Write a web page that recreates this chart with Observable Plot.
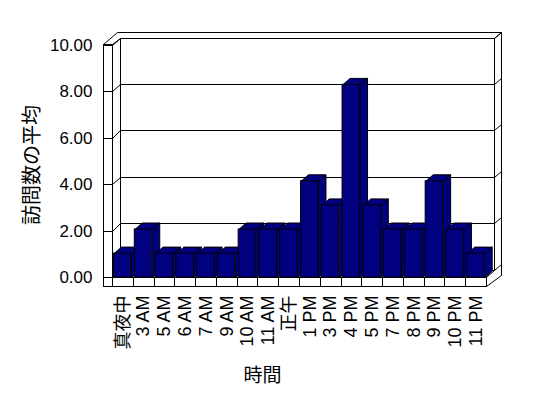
<!DOCTYPE html>
<html>
<head>
<meta charset="utf-8">
<script src="https://cdn.jsdelivr.net/npm/d3@7"></script>
<script src="https://cdn.jsdelivr.net/npm/@observablehq/plot@0.6"></script>
<style>
  html, body { margin: 0; padding: 0; background: #ffffff; }
  #chart { position: relative; width: 548px; height: 398px; overflow: hidden; }
  #chart svg { position: absolute; left: 0; top: 0; }
</style>
</head>
<body>
<div id="chart"></div>
<script>
// ---- data ----
const hours = ["真夜中", "3 AM", "5 AM", "6 AM", "7 AM", "9 AM", "10 AM", "11 AM", "正午",
               "1 PM", "3 PM", "4 PM", "5 PM", "7 PM", "8 PM", "9 PM", "10 PM", "11 PM"];
const avgVisits = [1, 2, 1, 1, 1, 1, 2, 2, 2, 4, 3, 8, 3, 2, 2, 4, 2, 1];
const yTicks = [0, 2, 4, 6, 8, 10];
const yTitle = "訪問数の平均";
const xTitle = "時間";

const table = hours.map((hour, i) => ({hour, visits: avgVisits[i]}));

// ---- styling / geometry ----
const FONT = "'Liberation Sans', 'Noto Sans CJK JP', sans-serif";
const BAR = "#000080";
const W = 548, H = 398;
const margins = {marginLeft: 103, marginRight: 47, marginTop: 31, marginBottom: 112};
const xRange = [112, 486];
const DX = 8, DY = -7.5;      // wall depth
const BDX = 7.5, BDY = -6.5;  // bar depth
const p = v => Math.round(v) + 0.5;

function seg(g, x1, y1, x2, y2) {
  g.append("line").attr("x1", p(x1)).attr("y1", p(y1)).attr("x2", p(x2)).attr("y2", p(y2));
}

// 3D frame (walls, floor, gridlines) drawn from the scales
function walls(index, scales) {
  const x = scales.x, y = scales.y;
  const [xL, xR] = x.range();
  const y0 = y(0), y10 = y(10);
  const g = d3.create("svg:g").attr("stroke", "black").attr("stroke-width", 1).attr("fill", "none");
  const bl = xL + DX, br = xR + DX, bt = y10 + DY, bb = y0 + DY;
  // back wall plane
  g.append("rect").attr("x", p(bl)).attr("y", p(bt)).attr("width", Math.round(br - bl))
    .attr("height", Math.round(bb - bt)).attr("fill", "white");
  // back wall outer edge
  seg(g, bl - 3, bt - 6, br + 7, bt - 6);
  seg(g, br + 7, bt - 6, br + 7, bb + 5);
  seg(g, br, bt, br + 7, bt - 6);
  // gridlines on back wall + ticks on side walls
  for (const v of yTicks) {
    const yf = y(v), yb = y(v) + DY;
    seg(g, bl, yb, br, yb);
    seg(g, br, yb, br + 7, yb - 6);
    seg(g, xL, yf, bl, yb);
  }
  // left wall front face
  g.append("rect").attr("x", p(xL - 9)).attr("y", p(y10 - 1)).attr("width", 9)
    .attr("height", Math.round(y0 + 9 - (y10 - 1))).attr("fill", "white");
  seg(g, xL - 9, y10 - 1, bl - 3, bt - 6);
  seg(g, xL, y10 - 1, bl, bt);
  for (const v of yTicks) seg(g, xL - 9, y(v), xL, y(v));
  // floor front face
  g.append("rect").attr("x", p(xL)).attr("y", p(y0)).attr("width", Math.round(xR - xL))
    .attr("height", 9).attr("fill", "white");
  seg(g, xR, y0, br, bb);
  seg(g, xR, y0 + 9, br + 7, bb + 5);
  for (const h of hours.slice(1)) seg(g, x(h), y0, x(h), y0 + 9);
  return g.node();
}

// top and side faces of the bars
function barFaces(index, scales) {
  const x = scales.x, y = scales.y;
  const bw = x.bandwidth();
  const g = d3.create("svg:g").attr("transform", "translate(0.5,0.5)")
    .attr("fill", BAR).attr("stroke", "black").attr("stroke-width", 1).attr("stroke-linejoin", "miter");
  for (const d of table) {
    const xl = x(d.hour) + 1.5, xr = x(d.hour) + bw - 1.8;
    const yt = y(d.visits), yb = y(0);
    g.append("path").attr("d",
      `M${xr},${yt}L${xr + BDX},${yt + BDY}L${xr + BDX},${yb + BDY}L${xr},${yb}Z`);
    g.append("path").attr("d",
      `M${xl},${yt}L${xr},${yt}L${xr + BDX},${yt + BDY}L${xl + BDX},${yt + BDY}Z`);
  }
  return g.node();
}

const framePlot = Plot.plot({
  width: W, height: H, ...margins,
  style: {background: "white", fontFamily: FONT, color: "black"},
  x: {type: "band", domain: hours, range: xRange, padding: 0, round: false, label: null},
  y: {domain: [0, 10], range: [277, 45], label: null},
  marks: [
    walls,
    Plot.axisY(yTicks, {tickFormat: d3.format(".2f"), tickSize: 0, tickPadding: 11, fontSize: 17, label: null}),
    Plot.axisX({tickRotate: -90, tickSize: 0, tickPadding: 9, fontSize: 18, label: null}),
    Plot.text([yTitle], {text: d => d, frameAnchor: "left", textAnchor: "middle", lineAnchor: "middle",
                         rotate: -90, dx: -71, dy: 6, fontSize: 20}),
    Plot.text([xTitle], {text: d => d, frameAnchor: "bottom", textAnchor: "middle", lineAnchor: "middle",
                         dx: -40, dy: 89, fontSize: 19})
  ]
});

const barPlot = Plot.plot({
  width: W, height: H, ...margins,
  style: {background: "transparent"},
  x: {type: "band", domain: hours, range: xRange, padding: 0, round: false, axis: null},
  y: {domain: [0, 10], range: [277.2, 36.2], axis: null},
  marks: [
    barFaces,
    Plot.barY(table, {x: "hour", y: "visits", fill: BAR, stroke: "black", strokeWidth: 1,
                      insetLeft: 1.5, insetRight: 1.8})
  ]
});

const chart = document.getElementById("chart");
chart.append(framePlot, barPlot);
</script>
</body>
</html>
